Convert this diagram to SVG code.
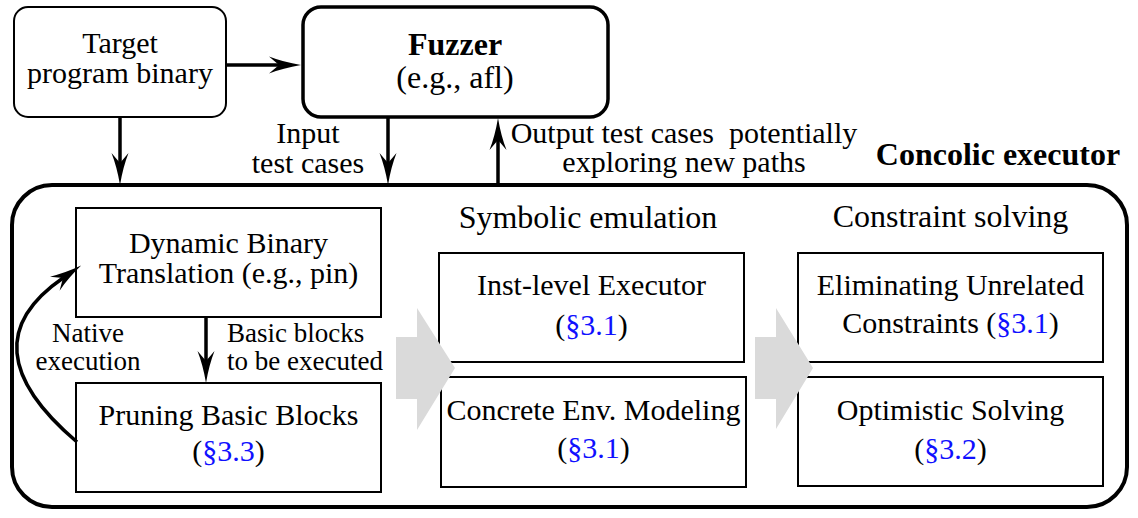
<svg xmlns="http://www.w3.org/2000/svg" width="1138" height="518" viewBox="0 0 1138 518" font-family="'Liberation Serif', 'Times New Roman', Times, 'DejaVu Serif', serif">
<style>
text{font-family:'Liberation Serif','Times New Roman',Times,'DejaVu Serif',serif;fill:#000;}
.t{font-size:30px;text-anchor:middle;}
.h{font-size:32px;text-anchor:middle;}
.b{font-weight:bold;}
.l{font-size:27px;}
.s{fill:#1010ff;}
.box{fill:#fff;stroke:#000;stroke-width:2;}
.arr{fill:none;stroke:#000;stroke-width:3.5;marker-end:url(#ah);}
.gray{fill:#dadada;stroke:none;}
</style>
<defs>
<marker id="ah" markerUnits="userSpaceOnUse" viewBox="0 0 32 18" refX="10" refY="9" markerWidth="32" markerHeight="18" orient="auto">
<path d="M0,0.5 Q14,6 32,9 Q14,12 0,17.5 L10,9 Z" fill="#000"/>
</marker>
</defs>

<g id="concolic">
<rect x="12" y="185" width="1115" height="322" rx="40" ry="40" fill="#fff" stroke="#000" stroke-width="4"/>
<text class="h b" x="998" y="165">Concolic executor</text>
</g>

<g id="target">
<rect class="box" x="14" y="7" width="212" height="110" rx="14" ry="14"/>
<text class="t" x="120" y="53">Target</text>
<text class="t" x="120" y="83">program binary</text>
</g>

<g id="fuzzer">
<rect x="303" y="7" width="305" height="110" rx="18" ry="18" fill="#fff" stroke="#000" stroke-width="3.5"/>
<text class="h b" x="455" y="55">Fuzzer</text>
<text class="h" x="455" y="88">(e.g., afl)</text>
</g>

<g id="dbt">
<rect class="box" x="76" y="208" width="305" height="109"/>
<text class="t" x="228.5" y="253">Dynamic Binary</text>
<text class="t" x="228.5" y="283">Translation (e.g., pin)</text>
</g>

<g id="pruning">
<rect class="box" x="76" y="383" width="305" height="109"/>
<text class="t" x="228.5" y="425">Pruning Basic Blocks</text>
<text class="t" x="228.5" y="461">(<tspan class="s">§3.3</tspan>)</text>
</g>

<g id="symbolic-header">
<text class="h" x="588" y="228">Symbolic emulation</text>
</g>

<g id="inst">
<rect class="box" x="439" y="253" width="305" height="109"/>
<text class="t" x="591.5" y="295">Inst-level Executor</text>
<text class="t" x="591.5" y="335">(<tspan class="s">§3.1</tspan>)</text>
</g>

<g id="concrete">
<rect class="box" x="441" y="377" width="305" height="110"/>
<text class="t" x="593.5" y="420">Concrete Env. Modeling</text>
<text class="t" x="593.5" y="458">(<tspan class="s">§3.1</tspan>)</text>
</g>

<g id="constraint-header">
<text class="h" x="950.5" y="227">Constraint solving</text>
</g>

<g id="eliminating">
<rect class="box" x="798" y="253" width="305" height="109"/>
<text class="t" x="950.5" y="295">Eliminating Unrelated</text>
<text class="t" x="950.5" y="333">Constraints (<tspan class="s">§3.1</tspan>)</text>
</g>

<g id="optimistic">
<rect class="box" x="798" y="377" width="305" height="109"/>
<text class="t" x="950.5" y="420">Optimistic Solving</text>
<text class="t" x="950.5" y="459">(<tspan class="s">§3.2</tspan>)</text>
</g>

<g id="stage-arrows">
<polygon class="gray" points="396,337 417,337 417,308 455,368 417,430 417,399 396,399"/>
<polygon class="gray" points="755,337 776,337 776,308 813,368 776,429 776,399 755,399"/>
</g>

<g id="connectors">
<line class="arr" x1="226" y1="65" x2="279" y2="65"/>
<line class="arr" x1="120" y1="117" x2="120" y2="163"/>
<line class="arr" x1="388" y1="117" x2="388" y2="163"/>
<line class="arr" x1="498" y1="185" x2="498" y2="140"/>
<line class="arr" x1="206" y1="317" x2="206" y2="361"/>
<path class="arr" d="M77,442 Q-36,346 63,278"/>
<text class="t" x="308" y="143">Input</text>
<text class="t" x="308" y="173">test cases</text>
<text class="t" x="684" y="143" xml:space="preserve">Output test cases  potentially</text>
<text class="t" x="684" y="172">exploring new paths</text>
<text class="l" x="88" y="342" text-anchor="middle">Native</text>
<text class="l" x="88" y="370" text-anchor="middle">execution</text>
<text class="l" x="227" y="342">Basic blocks</text>
<text class="l" x="227" y="370">to be executed</text>
</g>
</svg>
